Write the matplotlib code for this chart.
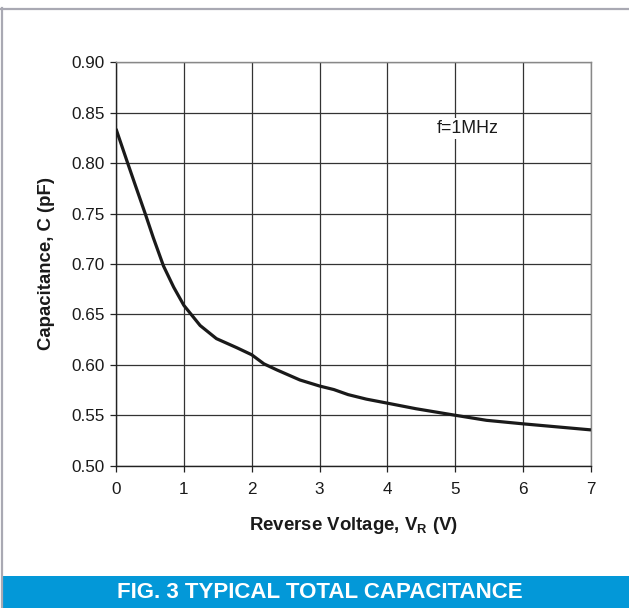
import numpy as np
import matplotlib
matplotlib.use("Agg")
from matplotlib import pyplot as plt
from matplotlib.patches import Rectangle
from matplotlib.lines import Line2D

# Curve (reverse voltage in V, capacitance in pF)
voltageL = [0.0, 0.157, 0.28, 0.43, 0.55, 0.70, 0.85, 1.0, 1.24, 1.48, 1.78,
            2.0, 2.18, 2.37, 2.71, 3.0, 3.21, 3.42, 3.69, 4.0, 4.42, 5.0,
            5.46, 6.0, 6.5, 7.0]
capL = [0.834, 0.803, 0.779, 0.750, 0.726, 0.698, 0.677, 0.659, 0.639, 0.626,
        0.617, 0.610, 0.601, 0.595, 0.585, 0.579, 0.5755, 0.5705, 0.566, 0.562,
        0.5565, 0.550, 0.545, 0.5415, 0.5385, 0.5355]

xTickL = [0, 1, 2, 3, 4, 5, 6, 7]
yTickL = [0.50, 0.55, 0.60, 0.65, 0.70, 0.75, 0.80, 0.85, 0.90]

title = "FIG. 3 TYPICAL TOTAL CAPACITANCE"
note = "f=1MHz"

plt.rcParams['font.family'] = ['Liberation Sans', 'DejaVu Sans']

W, H = 629, 608
fig = plt.figure(figsize=(W / 100, H / 100), dpi=100)

# outer frame (left + top gray lines) and blue caption band
fig.add_artist(Line2D([2 / W, 2 / W], [0, (H - 8) / H], color="#a9a9b3",
                      lw=1.6, transform=fig.transFigure))
fig.add_artist(Line2D([1 / W, 1], [(H - 9) / H, (H - 9) / H], color="#a9a9b3",
                      lw=1.6, transform=fig.transFigure))
fig.add_artist(Rectangle((3 / W, 0), 1, 32 / H, color="#0398d8",
                         transform=fig.transFigure, lw=0))
fig.text(320 / W, 15 / H, title, color="white", fontsize=16,
         fontweight="bold", ha="center", va="center")

ax = fig.add_axes([116 / W, 142.3 / H, 475 / W, 403.4 / H])
ax.plot(voltageL, capL, color="#1a1a1a", lw=2.3, solid_capstyle="butt",
        solid_joinstyle="round", zorder=3)

ax.set_xlim(0, 7)
ax.set_ylim(0.50, 0.90)
ax.set_xticks(xTickL)
ax.set_yticks(yTickL)
ax.set_xticklabels([str(v) for v in xTickL])
ax.set_yticklabels(["{:.2f}".format(v) for v in yTickL])
ax.tick_params(direction="out", length=4, width=0.9, color="#222222",
               labelsize=12.3, labelcolor="#1a1a1a", pad=4)
ax.tick_params(axis="x", pad=8)
ax.grid(True, color="#333333", lw=0.9)
ax.set_axisbelow(True)

for side in ["left", "bottom"]:
    ax.spines[side].set_color("#222222")
    ax.spines[side].set_linewidth(1.0)
for side in ["top", "right"]:
    ax.spines[side].set_color("#888888")
    ax.spines[side].set_linewidth(1.0)

ax.set_xlabel("Reverse Voltage, V$_\\mathregular{R}$ (V)", fontsize=13.4,
              fontweight="bold", color="#1a1a1a", labelpad=13)
ax.set_ylabel("Capacitance, C (pF)", fontsize=13.4, fontweight="bold",
              color="#1a1a1a", labelpad=12)

ax.text(5.19, 0.8346, note, fontsize=12.8, color="#1a1a1a", ha="center",
        va="center", zorder=4,
        bbox=dict(facecolor="white", edgecolor="none", pad=1.5))

plt.savefig("out.png", dpi=100)
plt.close('all')
